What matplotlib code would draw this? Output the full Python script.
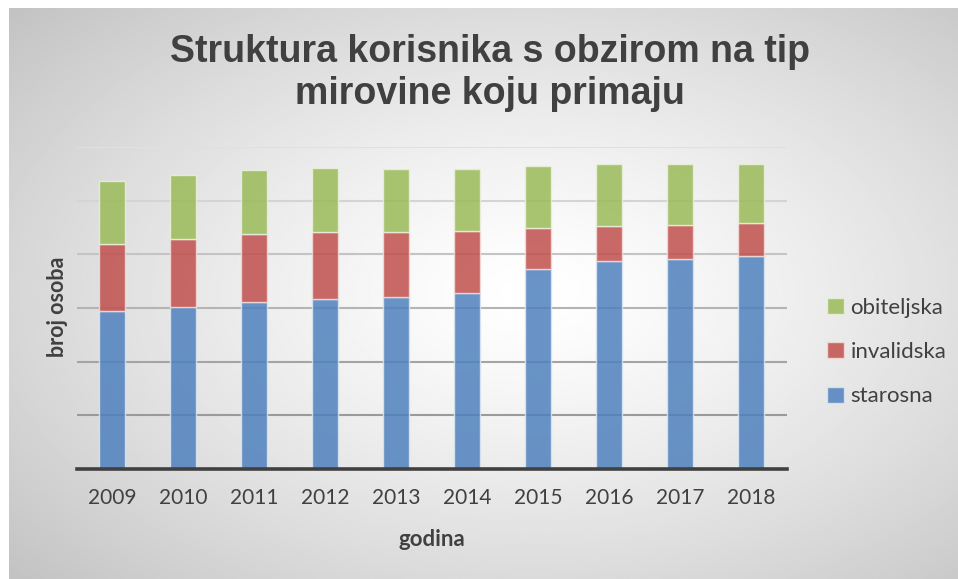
import numpy as np
import matplotlib
matplotlib.use("Agg")
import matplotlib.pyplot as plt
from matplotlib.patches import Patch

# values in thousands of persons
years = ['2009', '2010', '2011', '2012', '2013', '2014', '2015', '2016', '2017', '2018']
starosna = [590, 605, 622, 632, 642, 657, 746, 776, 784, 793]
invalidska = [247, 253, 254, 251, 241, 231, 153, 131, 126, 123]
obiteljska = [237, 239, 239, 240, 234, 230, 230, 228, 227, 222]

c_blue = '#4f81bd'
c_red = '#c0504d'
c_green = '#9bbb59'

fig = plt.figure(figsize=(9.58, 5.79), dpi=100)

# radial grey background of the chart area
bg = fig.add_axes([9/958, 0, 1 - 9/958, 1 - 8/579], zorder=-10)
yy, xx = np.mgrid[0:1:300j, 0:1:500j]
r = np.sqrt(((xx - 0.55) / 0.75) ** 2 + ((yy - 0.5) / 0.75) ** 2)
shade = 1 - 0.24 * np.clip(r, 0, 1) ** 1.3
bg.imshow(shade, cmap='gray', vmin=0, vmax=1, aspect='auto', extent=[0, 1, 0, 1])
bg.axis('off')

ax = fig.add_axes([76.5/958, 1 - 469/579, 710/958, 322/579])
ax.patch.set_visible(False)

x = np.arange(len(years))
w = 0.38
bot2 = np.array(starosna) + np.array(invalidska)
ax.bar(x, starosna, w, color=c_blue, alpha=0.85, edgecolor='#dce6f2', linewidth=1, zorder=3)
ax.bar(x, invalidska, w, bottom=starosna, color=c_red, alpha=0.85, edgecolor='#f2dcdb', linewidth=1, zorder=3)
ax.bar(x, obiteljska, w, bottom=bot2, color=c_green, alpha=0.85, edgecolor='#ebf1de', linewidth=1, zorder=3)

ax.set_xlim(-0.5, len(years) - 0.5)
ax.set_ylim(0, 1200)
grid_cols = ['#9a9a9a', '#a4a4a4', '#b4b4b4', '#c4c4c4', '#d4d4d4', '#e0e0e0']
for i, g in enumerate(range(200, 1201, 200)):
    ax.axhline(g, color=grid_cols[i], lw=1.5, zorder=1)
ax.axhline(0, color='#404040', lw=2.6, zorder=4, clip_on=False)

for s in ax.spines.values():
    s.set_visible(False)
ax.set_yticks([])
ax.set_xticks(x)
ax.set_xticklabels(years, fontfamily='Lato', fontsize=15, color='#404040')
ax.tick_params(axis='x', length=0, pad=14)

ax.set_xlabel('godina', fontfamily='Lato', fontweight='bold', fontsize=16, color='#404040', labelpad=15)
fig.text(58/958, 1 - 307/579, 'broj osoba', rotation=90, ha='center', va='center',
         fontfamily='Lato', fontweight='bold', fontsize=15.5, color='#404040')

fig.text(490/958, 1 - 73/579, 'Struktura korisnika s obzirom na tip\nmirovine koju primaju',
         ha='center', va='center', fontfamily='Liberation Sans', fontweight='bold',
         fontsize=27, color='#404040', linespacing=1.22)

handles = [Patch(facecolor=c_green, edgecolor='#ebf1de', alpha=0.85),
           Patch(facecolor=c_red, edgecolor='#f2dcdb', alpha=0.85),
           Patch(facecolor=c_blue, edgecolor='#dce6f2', alpha=0.85)]
fig.legend(handles, ['obiteljska', 'invalidska', 'starosna'], loc='center left',
           bbox_to_anchor=(807/958, 1 - 352/579), frameon=False,
           prop={'family': 'Lato', 'size': 16}, labelcolor='#404040',
           handlelength=0.75, handleheight=0.75, handletextpad=0.3, labelspacing=1.1)

fig.savefig('out.png', dpi=100)
